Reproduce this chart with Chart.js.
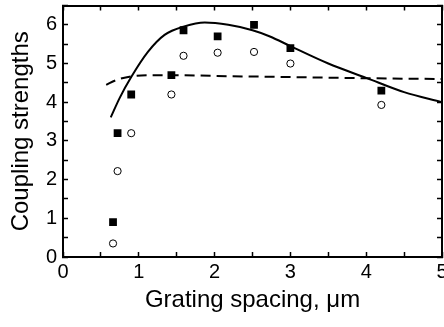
<!DOCTYPE html>
<html lang="en">
<head>
<meta charset="UTF-8">
<title>Coupling strengths</title>
<script src="https://cdn.jsdelivr.net/npm/chart.js"></script>
<style>
  html, body { margin: 0; padding: 0; background: #fff; overflow: hidden; }
  #wrap { width: 444px; height: 327px; overflow: hidden; }
</style>
</head>
<body>
<div id="wrap">
  <canvas id="chart" width="470" height="327"></canvas>
</div>
<script>
  // measured points (grating spacing in um)
  const spacing = [0.66, 0.72, 0.9, 1.43, 1.59, 2.04, 2.52, 3.0, 4.2];
  const filledSquares = [0.9, 3.2, 4.2, 4.7, 5.86, 5.7, 6.0, 5.4, 4.3];
  const openCircles = [0.35, 2.22, 3.2, 4.2, 5.2, 5.28, 5.3, 5.0, 3.93];

  // solid curve
  const solidX = [0.63, 0.75, 0.9, 1.12, 1.34, 1.6, 1.87, 2.18, 2.5, 2.73, 3.0, 3.5, 4.0, 4.5, 5.0];
  const solidY = [3.61, 4.12, 4.65, 5.30, 5.74, 5.96, 6.06, 6.0, 5.86, 5.70, 5.45, 5.0, 4.63, 4.26, 4.0];

  // dashed curve
  const dashedX = [0.57, 0.7, 0.9, 1.2, 1.5, 2.0, 3.0, 4.0, 5.0];
  const dashedY = [4.45, 4.57, 4.67, 4.7, 4.7, 4.68, 4.65, 4.62, 4.6];

  const xTicks = [0, 1, 2, 3, 4, 5];
  const yTicks = [0, 1, 2, 3, 4, 5, 6];

  function pairs(xs, ys) {
    return xs.map((x, i) => ({ x: x, y: ys[i] }));
  }

  const font = "'Liberation Sans', Arial, sans-serif";

  function onlyMajor(list) {
    return function (value) {
      return list.includes(value) ? String(value) : '';
    };
  }

  // fix axis box sizes so the plot area sits where the original does
  function fixSize(w, h) {
    return function (scale) {
      if (w !== null) scale.width = w;
      if (h !== null) scale.height = h;
      scale.paddingTop = 0;
      scale.paddingBottom = 0;
      scale.paddingLeft = 0;
      scale.paddingRight = 0;
    };
  }

  const gridStyle = {
    drawOnChartArea: false,
    drawTicks: true,
    tickLength: -5,
    tickWidth: 1.5,
    tickColor: '#000'
  };
  const borderStyle = { display: true, color: '#000', width: 2 };

  const ctx = document.getElementById('chart').getContext('2d');
  new Chart(ctx, {
    type: 'scatter',
    data: {
      datasets: [
        {
          label: 'filled',
          data: pairs(spacing, filledSquares),
          pointStyle: 'rect',
          pointRadius: 5.5,
          backgroundColor: '#000',
          borderColor: '#000',
          borderWidth: 0,
          showLine: false,
          order: 0
        },
        {
          label: 'open',
          data: pairs(spacing, openCircles),
          pointStyle: 'circle',
          pointRadius: 3.6,
          backgroundColor: '#fff',
          borderColor: '#000',
          borderWidth: 1,
          showLine: false,
          order: 0
        },
        {
          label: 'solid',
          data: pairs(solidX, solidY),
          showLine: true,
          pointRadius: 0,
          borderColor: '#000',
          borderWidth: 2,
          cubicInterpolationMode: 'monotone',
          order: 1
        },
        {
          label: 'dashed',
          data: pairs(dashedX, dashedY),
          showLine: true,
          pointRadius: 0,
          borderColor: '#000',
          borderWidth: 2,
          borderDash: [10, 6],
          cubicInterpolationMode: 'monotone',
          order: 1
        }
      ]
    },
    options: {
      responsive: false,
      animation: false,
      layout: { padding: { left: 0, right: 28, top: 4, bottom: 0 } },
      plugins: { legend: { display: false }, tooltip: { enabled: false } },
      scales: {
        x: {
          type: 'linear',
          position: 'bottom',
          min: 0, max: 5,
          afterFit: fixSize(null, 70),
          ticks: {
            stepSize: 0.5,
            autoSkip: false,
            maxRotation: 0,
            padding: 10,
            color: '#000',
            font: { family: font, size: 20, lineHeight: 1 },
            callback: onlyMajor(xTicks)
          },
          grid: gridStyle,
          border: borderStyle,
          title: {
            display: true,
            text: 'Grating spacing, μm',
            color: '#000',
            font: { family: font, size: 24 },
            padding: { top: 0, bottom: 12 }
          }
        },
        x2: {
          type: 'linear',
          position: 'top',
          min: 0, max: 5,
          afterFit: fixSize(null, 0),
          ticks: { stepSize: 0.5, display: false },
          grid: gridStyle,
          border: borderStyle
        },
        y: {
          type: 'linear',
          position: 'left',
          min: 0, max: 6.5,
          afterFit: fixSize(63, null),
          ticks: {
            stepSize: 0.5,
            includeBounds: false,
            autoSkip: false,
            padding: 11,
            color: '#000',
            font: { family: font, size: 20 },
            callback: onlyMajor(yTicks)
          },
          grid: gridStyle,
          border: borderStyle,
          title: {
            display: true,
            text: 'Coupling strengths',
            color: '#000',
            font: { family: font, size: 24 },
            padding: { top: 7, bottom: 0 }
          }
        },
        y2: {
          type: 'linear',
          position: 'right',
          min: 0, max: 6.5,
          afterFit: fixSize(0, null),
          ticks: { stepSize: 0.5, includeBounds: false, display: false },
          grid: gridStyle,
          border: borderStyle
        }
      }
    }
  });
</script>
</body>
</html>
